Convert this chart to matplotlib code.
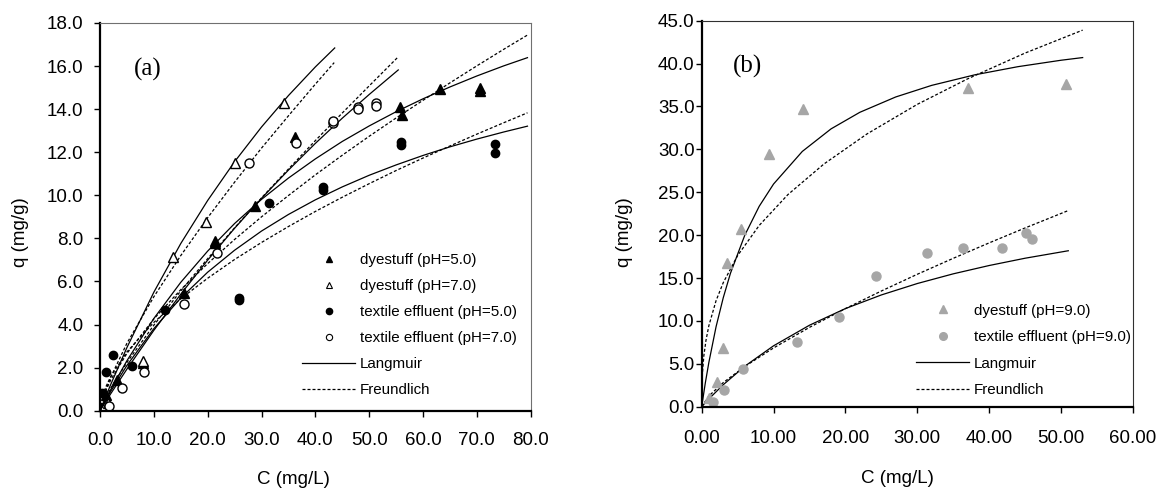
import matplotlib.pyplot as plt
from matplotlib.lines import Line2D

plt.rcParams['font.family'] = ['Liberation Sans', 'DejaVu Sans']

# ---------------- panel (a) measured points ----------------
a_dye5_C = [1.2, 3.2, 7.9, 15.6, 21.4, 21.4, 28.8, 36.2, 55.8, 56.1, 63.1, 70.5, 70.5]
a_dye5_q = [0.75, 1.43, 2.2, 5.45, 7.77, 7.9, 9.5, 12.7, 14.08, 13.73, 14.92, 14.85, 15.0]
a_dye7_C = [1.5, 7.9, 13.6, 19.7, 25.1, 34.2]
a_dye7_q = [0.36, 2.3, 7.15, 8.76, 11.5, 14.3]
a_tex5_C = [0.4, 1.1, 2.4, 5.95, 12.1, 25.9, 25.9, 31.3, 41.5, 41.5, 55.9, 55.9, 73.4, 73.4]
a_tex5_q = [0.8, 1.81, 2.59, 2.08, 4.68, 5.25, 5.15, 9.63, 10.4, 10.25, 12.49, 12.34, 12.38, 11.98]
a_tex7_C = [1.67, 4.0, 8.2, 15.6, 21.8, 27.75, 36.4, 43.2, 43.2, 47.9, 47.9, 51.2, 51.2]
a_tex7_q = [0.23, 1.07, 1.80, 4.94, 7.34, 11.49, 12.45, 13.34, 13.46, 14.1, 13.99, 14.27, 14.15]

# panel (a) fitted curves
a_L_dye7_C = [0, 2, 5, 10, 15, 20, 25, 30, 35, 40, 43.6]
a_L_dye7_q = [0, 1.22, 2.93, 5.50, 7.76, 9.76, 11.56, 13.17, 14.63, 15.96, 16.84]
a_F_dye7_C = [0, 1, 2, 5, 10, 15, 20, 25, 30, 35, 40, 43.5]
a_F_dye7_q = [0, 0.92, 1.56, 3.13, 5.29, 7.20, 8.96, 10.61, 12.19, 13.69, 15.16, 16.16]
a_L_tex7_C = [0, 2, 5, 10, 15, 20, 25, 30, 35, 40, 45, 50, 55.4]
a_L_tex7_q = [0, 0.79, 1.93, 3.73, 5.41, 6.99, 8.47, 9.86, 11.17, 12.41, 13.58, 14.68, 15.82]
a_F_tex7_C = [0, 2, 5, 10, 15, 20, 25, 30, 35, 40, 45, 50, 55.4]
a_F_tex7_q = [0, 1.05, 2.24, 3.97, 5.56, 7.06, 8.49, 9.88, 11.22, 12.54, 13.82, 15.08, 16.43]
a_L_dye5_C = [0, 2, 5, 10, 15, 20, 25, 30, 35, 40, 45, 50, 55, 60, 65, 70, 75, 79.4]
a_L_dye5_q = [0, 0.98, 2.32, 4.28, 5.96, 7.41, 8.69, 9.81, 10.80, 11.69, 12.50, 13.22, 13.88,
              14.48, 15.03, 15.54, 16.01, 16.39]
a_F_dye5_C = [0, 1, 2, 5, 10, 15, 20, 25, 30, 35, 40, 45, 50, 55, 60, 65, 70, 75, 79.4]
a_F_dye5_q = [0, 0.89, 1.43, 2.66, 4.26, 5.62, 6.83, 7.95, 9.00, 9.99, 10.95, 11.86, 12.74,
              13.59, 14.41, 15.22, 16.01, 16.78, 17.44]
a_L_tex5_C = [0, 2, 5, 10, 15, 20, 25, 30, 35, 40, 45, 50, 55, 60, 65, 70, 75, 79.4]
a_L_tex5_q = [0, 0.90, 2.10, 3.81, 5.23, 6.43, 7.45, 8.34, 9.11, 9.79, 10.39, 10.93, 11.41,
              11.85, 12.25, 12.61, 12.94, 13.21]
a_F_tex5_C = [0, 1, 2, 5, 10, 15, 20, 25, 30, 35, 40, 45, 50, 55, 60, 65, 70, 75, 79.4]
a_F_tex5_q = [0, 1.06, 1.59, 2.73, 4.10, 5.20, 6.15, 7.02, 7.81, 8.55, 9.25, 9.91, 10.54,
              11.15, 11.73, 12.29, 12.84, 13.37, 13.83]

# ---------------- panel (b) measured points ----------------
b_dye9_C = [1.06, 2.08, 3.0, 3.47, 5.5, 9.36, 14.05, 37.1, 50.7]
b_dye9_q = [0.98, 2.84, 6.8, 16.8, 20.7, 29.46, 34.7, 37.2, 37.6]
b_tex9_C = [1.6, 3.1, 5.7, 13.2, 19.05, 24.25, 31.3, 36.4, 41.8, 45.1, 45.9]
b_tex9_q = [0.5, 1.95, 4.4, 7.6, 10.5, 15.2, 17.9, 18.5, 18.5, 20.3, 19.6]

b_L_dye9_C = [0, 0.5, 1, 2, 3, 4, 6, 8, 10, 14, 18, 22, 27, 32, 38, 44, 50, 53]
b_L_dye9_q = [0, 2.74, 5.17, 9.32, 12.7, 15.55, 20.0, 23.36, 25.96, 29.76, 32.39, 34.32,
              36.11, 37.46, 38.69, 39.64, 40.39, 40.7]
b_F_dye9_C = [0, 0.1, 0.3, 0.6, 1, 2, 3, 5, 8, 12, 17, 23, 30, 37, 45, 53]
b_F_dye9_q = [0, 3.88, 5.93, 7.75, 9.45, 12.36, 14.46, 17.62, 21.13, 24.73, 28.29, 31.8,
              35.25, 38.22, 41.23, 43.9]
b_L_tex9_C = [0, 1, 3, 6, 10, 15, 20, 25, 30, 35, 40, 45, 51]
b_L_tex9_q = [0, 0.91, 2.56, 4.72, 7.10, 9.50, 11.44, 13.03, 14.36, 15.49, 16.46, 17.31, 18.18]
b_F_tex9_C = [0, 1, 3, 6, 10, 15, 20, 25, 30, 35, 40, 45, 51.1]
b_F_tex9_q = [0, 1.25, 2.81, 4.69, 6.85, 9.25, 11.44, 13.49, 15.44, 17.30, 19.10, 20.84, 22.9]

a_xticks = [0, 10, 20, 30, 40, 50, 60, 70, 80]
a_yticks = [0, 2, 4, 6, 8, 10, 12, 14, 16, 18]
b_xticks = [0, 10, 20, 30, 40, 50, 60]
b_yticks = [0, 5, 10, 15, 20, 25, 30, 35, 40, 45]

grey = '#a6a6a6'
dash = (0, (2.4, 1.6))
lw = 0.9

fig = plt.figure(figsize=(11.6, 4.88), dpi=100)
ax1 = fig.add_axes([0.0862, 0.1584, 0.3713, 0.7945])
ax2 = fig.add_axes([0.6049, 0.1666, 0.3718, 0.7910])

# curves (a)
for C, q in [(a_L_dye7_C, a_L_dye7_q), (a_L_tex7_C, a_L_tex7_q),
             (a_L_dye5_C, a_L_dye5_q), (a_L_tex5_C, a_L_tex5_q)]:
    ax1.plot(C, q, color='black', lw=lw)
for C, q in [(a_F_dye7_C, a_F_dye7_q), (a_F_tex7_C, a_F_tex7_q),
             (a_F_dye5_C, a_F_dye5_q), (a_F_tex5_C, a_F_tex5_q)]:
    ax1.plot(C, q, color='black', lw=lw, ls=dash)

ax1.plot(a_dye5_C, a_dye5_q, ls='none', marker='^', ms=7.5, color='black', mec='black')
ax1.plot(a_tex5_C, a_tex5_q, ls='none', marker='o', ms=6, color='black', mec='black')
ax1.plot(a_dye7_C, a_dye7_q, ls='none', marker='^', ms=7.5, mfc='white', mec='black', mew=1)
ax1.plot(a_tex7_C, a_tex7_q, ls='none', marker='o', ms=6.5, mfc='white', mec='black', mew=1)

# curves (b)
ax2.plot(b_L_dye9_C, b_L_dye9_q, color='black', lw=lw)
ax2.plot(b_L_tex9_C, b_L_tex9_q, color='black', lw=lw)
ax2.plot(b_F_dye9_C, b_F_dye9_q, color='black', lw=lw, ls=dash)
ax2.plot(b_F_tex9_C, b_F_tex9_q, color='black', lw=lw, ls=dash)
ax2.plot(b_dye9_C, b_dye9_q, ls='none', marker='^', ms=7, color=grey, mec=grey)
ax2.plot(b_tex9_C, b_tex9_q, ls='none', marker='o', ms=6.5, color=grey, mec=grey)

# axes styling
ax1.set_xlim(0, 80)
ax1.set_ylim(0, 18)
ax1.set_xticks(a_xticks)
ax1.set_xticklabels(['%.1f' % v for v in a_xticks])
ax1.set_yticks(a_yticks)
ax1.set_yticklabels(['%.1f' % v for v in a_yticks])
ax2.set_xlim(0, 60)
ax2.set_ylim(0, 45)
ax2.set_xticks(b_xticks)
ax2.set_xticklabels(['%.2f' % v for v in b_xticks])
ax2.set_yticks(b_yticks)
ax2.set_yticklabels(['%.1f' % v for v in b_yticks])

for ax, edge in [(ax1, '#707070'), (ax2, '#303030')]:
    ax.spines['left'].set_linewidth(1.6)
    ax.spines['bottom'].set_linewidth(1.6)
    ax.spines['top'].set_color(edge)
    ax.spines['right'].set_color(edge)
    ax.spines['top'].set_linewidth(0.8)
    ax.spines['right'].set_linewidth(0.8)
    ax.tick_params(axis='both', direction='out', length=4, width=1, labelsize=13.5)
    ax.set_xlabel('C (mg/L)', fontsize=13.5)
    ax.set_ylabel('q (mg/g)', fontsize=13.5)

ax1.tick_params(axis='x', pad=11)
ax1.tick_params(axis='y', pad=8)
ax2.tick_params(axis='x', pad=13)
ax2.tick_params(axis='y', pad=1)

ax1.xaxis.set_label_coords(0.45, -0.155)
ax1.yaxis.set_label_coords(-0.165, 0.46)
ax2.xaxis.set_label_coords(0.454, -0.165)
ax2.yaxis.set_label_coords(-0.159, 0.453)

ax1.text(0.079, 0.879, '(a)', transform=ax1.transAxes, fontsize=18,
         family='Liberation Serif', va='center', ha='left')
ax2.text(0.073, 0.881, '(b)', transform=ax2.transAxes, fontsize=18,
         family='Liberation Serif', va='center', ha='left')

# legends
h_lang = Line2D([], [], color='black', lw=lw)
h_freu = Line2D([], [], color='black', lw=lw, ls=dash)
h1 = [Line2D([], [], ls='none', marker='^', ms=5, color='black'),
      Line2D([], [], ls='none', marker='^', ms=5, mfc='white', mec='black', mew=0.8),
      Line2D([], [], ls='none', marker='o', ms=4.5, color='black'),
      Line2D([], [], ls='none', marker='o', ms=4.5, mfc='white', mec='black', mew=0.8),
      h_lang, h_freu]
l1 = ['dyestuff (pH=5.0)', 'dyestuff (pH=7.0)', 'textile effluent (pH=5.0)',
      'textile effluent (pH=7.0)', 'Langmuir', 'Freundlich']
ax1.legend(h1, l1, loc='upper left', bbox_to_anchor=(0.47, 0.407), frameon=False,
           fontsize=10.9, handlelength=3.5, handletextpad=0.3, labelspacing=0.80,
           borderpad=0, borderaxespad=0)
h2 = [Line2D([], [], ls='none', marker='^', ms=5.5, color=grey),
      Line2D([], [], ls='none', marker='o', ms=5.5, color=grey),
      h_lang, h_freu]
l2 = ['dyestuff (pH=9.0)', 'textile effluent (pH=9.0)', 'Langmuir', 'Freundlich']
ax2.legend(h2, l2, loc='upper left', bbox_to_anchor=(0.497, 0.267), frameon=False,
           fontsize=10.9, handlelength=3.5, handletextpad=0.3, labelspacing=0.83,
           borderpad=0, borderaxespad=0)

fig.savefig('out.png', dpi=100)
